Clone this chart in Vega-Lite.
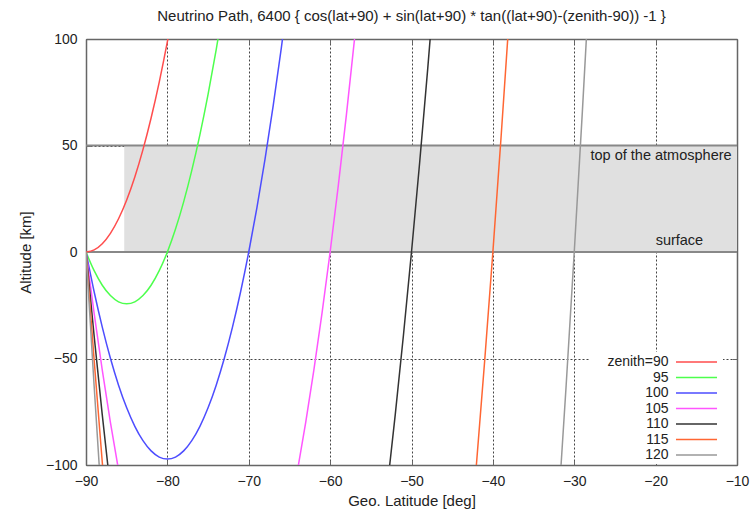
{
  "$schema": "https://vega.github.io/schema/vega-lite/v6.json",
  "width": 651,
  "height": 426,
  "autosize": {"type": "none"},
  "padding": {"left": 86, "top": 39, "right": 16, "bottom": 46},
  "title": {
    "text": "Neutrino Path, 6400 { cos(lat+90) + sin(lat+90) * tan((lat+90)-(zenith-90)) -1 }",
    "font": "Liberation Sans", "fontSize": 15, "fontWeight": "normal", "color": "#222", "offset": 8, "anchor": "middle"
  },
  "config": {
    "view": {"stroke": null},
    "axis": {
      "labelFont": "Liberation Sans", "labelFontSize": 14, "labelColor": "#222",
      "titleFont": "Liberation Sans", "titleFontSize": 15, "titleFontWeight": "normal", "titleColor": "#222",
      "domainColor": "#666", "domainWidth": 1.5, "tickColor": "#666", "tickSize": -5, "tickWidth": 1,
      "gridColor": "#444", "gridDash": [2, 2], "gridWidth": 1, "zindex": 1, "labelFlush": false
    }
  },
  "datasets": {
    "curves": [
      {"zenith": "90", "lat": -90, "alt": 0}, {"zenith": "90", "lat": -89, "alt": 0.975}, {"zenith": "90", "lat": -88, "alt": 3.9}, {"zenith": "90", "lat": -87, "alt": 8.78}, {"zenith": "90", "lat": -86, "alt": 15.63}, {"zenith": "90", "lat": -85, "alt": 24.45}, {"zenith": "90", "lat": -84, "alt": 35.25}, {"zenith": "90", "lat": -83, "alt": 48.06}, {"zenith": "90", "lat": -82, "alt": 62.9}, {"zenith": "90", "lat": -81, "alt": 79.78}, {"zenith": "90", "lat": -80, "alt": 98.73}, {"zenith": "90", "lat": -79, "alt": 119.79},
      {"zenith": "95", "lat": -90, "alt": 0}, {"zenith": "95", "lat": -89, "alt": -8.78}, {"zenith": "95", "lat": -88, "alt": -15.6}, {"zenith": "95", "lat": -87, "alt": -20.46}, {"zenith": "95", "lat": -86, "alt": -23.38}, {"zenith": "95", "lat": -85, "alt": -24.35}, {"zenith": "95", "lat": -84, "alt": -23.38}, {"zenith": "95", "lat": -83, "alt": -20.46}, {"zenith": "95", "lat": -82, "alt": -15.6}, {"zenith": "95", "lat": -81, "alt": -8.78}, {"zenith": "95", "lat": -80, "alt": 0}, {"zenith": "95", "lat": -79, "alt": 10.76}, {"zenith": "95", "lat": -78, "alt": 23.53}, {"zenith": "95", "lat": -77, "alt": 38.31}, {"zenith": "95", "lat": -76, "alt": 55.12}, {"zenith": "95", "lat": -75, "alt": 74.0}, {"zenith": "95", "lat": -74, "alt": 94.98}, {"zenith": "95", "lat": -73, "alt": 118.09},
      {"zenith": "100", "lat": -90, "alt": 0}, {"zenith": "100", "lat": -89, "alt": -18.66}, {"zenith": "100", "lat": -88, "alt": -35.28}, {"zenith": "100", "lat": -87, "alt": -49.89}, {"zenith": "100", "lat": -86, "alt": -62.51}, {"zenith": "100", "lat": -85, "alt": -73.15}, {"zenith": "100", "lat": -84, "alt": -81.84}, {"zenith": "100", "lat": -83, "alt": -88.58}, {"zenith": "100", "lat": -82, "alt": -93.38}, {"zenith": "100", "lat": -81, "alt": -96.27}, {"zenith": "100", "lat": -80, "alt": -97.23}, {"zenith": "100", "lat": -79, "alt": -96.27}, {"zenith": "100", "lat": -78, "alt": -93.38}, {"zenith": "100", "lat": -77, "alt": -88.58}, {"zenith": "100", "lat": -76, "alt": -81.84}, {"zenith": "100", "lat": -75, "alt": -73.15}, {"zenith": "100", "lat": -74, "alt": -62.51}, {"zenith": "100", "lat": -73, "alt": -49.89}, {"zenith": "100", "lat": -72, "alt": -35.28}, {"zenith": "100", "lat": -71, "alt": -18.66}, {"zenith": "100", "lat": -70, "alt": 0}, {"zenith": "100", "lat": -69, "alt": 20.74}, {"zenith": "100", "lat": -68, "alt": 43.58}, {"zenith": "100", "lat": -67, "alt": 68.56}, {"zenith": "100", "lat": -66, "alt": 95.72}, {"zenith": "100", "lat": -65, "alt": 125.11},
      {"zenith": "105", "lat": -90, "alt": 0}, {"zenith": "105", "lat": -89, "alt": -28.82}, {"zenith": "105", "lat": -88, "alt": -55.46}, {"zenith": "105", "lat": -87, "alt": -79.96}, {"zenith": "105", "lat": -86, "alt": -102.37}, {"zenith": "105", "lat": -85, "alt": -122.7}, {"zenith": "105", "lat": -65, "alt": -122.7}, {"zenith": "105", "lat": -64, "alt": -102.37}, {"zenith": "105", "lat": -63, "alt": -79.96}, {"zenith": "105", "lat": -62, "alt": -55.46}, {"zenith": "105", "lat": -61, "alt": -28.82}, {"zenith": "105", "lat": -60, "alt": 0}, {"zenith": "105", "lat": -59, "alt": 31.05}, {"zenith": "105", "lat": -58, "alt": 64.39}, {"zenith": "105", "lat": -57, "alt": 100.06}, {"zenith": "105", "lat": -56, "alt": 138.14},
      {"zenith": "110", "lat": -90, "alt": 0}, {"zenith": "110", "lat": -89, "alt": -39.43}, {"zenith": "110", "lat": -88, "alt": -76.47}, {"zenith": "110", "lat": -87, "alt": -111.17}, {"zenith": "110", "lat": -86, "alt": -143.6}, {"zenith": "110", "lat": -54, "alt": -143.6}, {"zenith": "110", "lat": -53, "alt": -111.17}, {"zenith": "110", "lat": -52, "alt": -76.47}, {"zenith": "110", "lat": -51, "alt": -39.43}, {"zenith": "110", "lat": -50, "alt": 0}, {"zenith": "110", "lat": -49, "alt": 41.91}, {"zenith": "110", "lat": -48, "alt": 86.35}, {"zenith": "110", "lat": -47, "alt": 133.41},
      {"zenith": "115", "lat": -90, "alt": 0}, {"zenith": "115", "lat": -89, "alt": -50.7}, {"zenith": "115", "lat": -88, "alt": -98.71}, {"zenith": "115", "lat": -87, "alt": -144.1}, {"zenith": "115", "lat": -86, "alt": -186.96}, {"zenith": "115", "lat": -44, "alt": -186.96}, {"zenith": "115", "lat": -43, "alt": -144.1}, {"zenith": "115", "lat": -42, "alt": -98.71}, {"zenith": "115", "lat": -41, "alt": -50.7}, {"zenith": "115", "lat": -40, "alt": 0}, {"zenith": "115", "lat": -39, "alt": 53.51}, {"zenith": "115", "lat": -38, "alt": 109.91},
      {"zenith": "120", "lat": -90, "alt": 0}, {"zenith": "120", "lat": -89, "alt": -62.88}, {"zenith": "120", "lat": -88, "alt": -122.66}, {"zenith": "120", "lat": -87, "alt": -179.4}, {"zenith": "120", "lat": -33, "alt": -179.4}, {"zenith": "120", "lat": -32, "alt": -122.66}, {"zenith": "120", "lat": -31, "alt": -62.88}, {"zenith": "120", "lat": -30, "alt": 0}, {"zenith": "120", "lat": -29, "alt": 66.14}, {"zenith": "120", "lat": -28, "alt": 135.67}
    ]
  },
  "resolve": {"axis": {"x": "independent", "y": "independent"}},
  "layer": [
    {
      "data": {"values": [{"lat": -85.3, "lat2": -10, "alt": 0, "alt2": 50}]},
      "mark": {"type": "rect", "fill": "#e0e0e0"},
      "encoding": {
        "x": {"field": "lat", "type": "quantitative", "scale": {"domain": [-90, -10], "nice": false, "zero": false},
              "axis": {"orient": "bottom", "values": [-90, -80, -70, -60, -50, -40, -30, -20, -10], "grid": true, "title": "Geo. Latitude [deg]", "labelPadding": 14, "titlePadding": 5}},
        "x2": {"field": "lat2"},
        "y": {"field": "alt", "type": "quantitative", "scale": {"domain": [-100, 100], "nice": false, "zero": false},
              "axis": {"orient": "left", "values": [-100, -50, 0, 50, 100], "grid": true, "title": "Altitude [km]", "labelPadding": 14, "titlePadding": 12}},
        "y2": {"field": "alt2"}
      }
    },
    {
      "data": {"values": [{"alt": 0}, {"alt": 50}]},
      "mark": {"type": "rule", "color": "#888", "strokeWidth": 2},
      "encoding": {"y": {"field": "alt", "type": "quantitative", "axis": null}}
    },
    {
      "data": {"name": "curves"},
      "mark": {"type": "line", "clip": true, "interpolate": "monotone", "strokeWidth": 1.5},
      "encoding": {
        "x": {"field": "lat", "type": "quantitative", "axis": null},
        "y": {"field": "alt", "type": "quantitative", "axis": null},
        "color": {
          "field": "zenith", "type": "nominal",
          "scale": {"domain": ["90", "95", "100", "105", "110", "115", "120"], "range": ["#ff4d4d", "#4dff4d", "#4d4dff", "#ff55ff", "#333333", "#ff6633", "#999999"]},
          "legend": {
            "title": null, "orient": "none", "legendX": 503, "legendY": 313,
            "symbolType": "M-2.93,0H2.93", "symbolSize": 196, "symbolStrokeWidth": 1.5, "symbolOffset": 97.5,
            "labelAlign": "right", "labelOffset": -36, "labelFont": "Liberation Sans", "labelFontSize": 14, "labelColor": "#222",
            "rowPadding": 0.5, "fillColor": "white", "padding": 2, "zindex": 2,
            "labelExpr": "datum.label == '90' ? 'zenith=90' : datum.label"
          }
        },
        "order": {"field": "lat", "type": "quantitative"}
      }
    },
    {
      "data": {"values": [{"lat": -28, "alt": 45, "label": "top of the atmosphere"}, {"lat": -20, "alt": 5, "label": "surface"}]},
      "mark": {"type": "text", "align": "left", "baseline": "middle", "font": "Liberation Sans", "fontSize": 14.5, "color": "#222"},
      "encoding": {
        "x": {"field": "lat", "type": "quantitative", "axis": {"orient": "top", "labels": false, "title": null, "grid": false, "values": [-90, -80, -70, -60, -50, -40, -30, -20, -10]}},
        "y": {"field": "alt", "type": "quantitative", "axis": {"orient": "right", "labels": false, "title": null, "grid": false, "values": [-100, -50, 0, 50, 100]}},
        "text": {"field": "label"}
      }
    }
  ]
}
